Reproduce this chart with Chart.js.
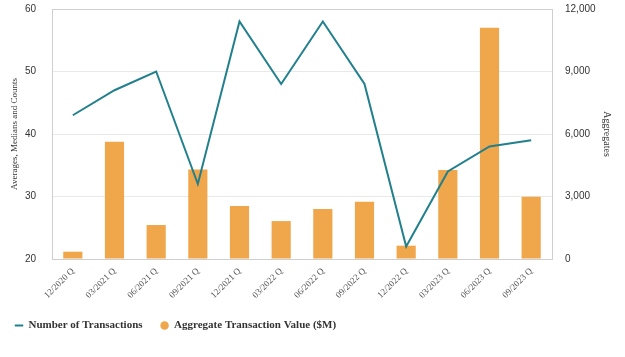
<!DOCTYPE html>
<html><head><meta charset="utf-8">
<script src="https://cdn.jsdelivr.net/npm/chart.js@4/dist/chart.umd.min.js"></script>
<style>html,body{margin:0;padding:0;background:#fff;overflow:hidden;}</style>
</head><body>
<canvas id="c" width="625" height="357" style="display:block;width:625px;height:357px"></canvas>
<script>
const categories = ['12/2020 Q','03/2021 Q','06/2021 Q','09/2021 Q','12/2021 Q','03/2022 Q','06/2022 Q','09/2022 Q','12/2022 Q','03/2023 Q','06/2023 Q','09/2023 Q'];
const transactionCounts = [43,47,50,32,58,48,58,48,22,34,38,39];
const aggregateValues = [350,5630,1630,4300,2540,1820,2400,2750,640,4270,11100,2990];
const leftAxisTitle = 'Averages, Medians and Counts';
const rightAxisTitle = 'Aggregates';
const lineLabel = 'Number of Transactions';
const barLabel = 'Aggregate Transaction Value ($M)';

const teal = '#22808c';
const orange = '#f0a64a';
const border = '#cfcfcf';
const serif = "'Liberation Serif', 'Times New Roman', serif";
const sans = "'Liberation Sans', Arial, sans-serif";

new Chart(document.getElementById('c'), {
  data: {
    labels: categories,
    datasets: [
      { type: 'line', label: lineLabel, data: transactionCounts, yAxisID: 'y',
        borderColor: teal, backgroundColor: teal, borderWidth: 2, pointRadius: 0,
        pointStyle: 'line', tension: 0, order: 0 },
      { type: 'bar', label: barLabel, data: aggregateValues, yAxisID: 'y1',
        backgroundColor: orange, borderWidth: 0, pointStyle: 'circle',
        barPercentage: 0.46, categoryPercentage: 1, order: 1 }
    ]
  },
  options: {
    responsive: false, animation: false, devicePixelRatio: 1,
    layout: { padding: { left: -3, right: 0, top: 8, bottom: 16 } },
    plugins: {
      tooltip: { enabled: false },
      legend: {
        position: 'bottom', align: 'start',
        labels: { usePointStyle: true, boxWidth: 8, boxHeight: 6, padding: 18,
          color: '#333', font: { family: serif, size: 11, weight: 'bold' } }
      }
    },
    scales: {
      x: {
        grid: { display: false, drawTicks: false },
        border: { display: true, color: border },
        ticks: { maxRotation: 45, minRotation: 45, padding: 7, color: '#555',
          font: { family: serif, size: 9 } },
        afterFit: s => { s.height = 43; }
      },
      y: {
        position: 'left', min: 20, max: 60,
        grid: { drawTicks: true, tickLength: 13, tickColor: 'rgba(0,0,0,0)',
          color: ctx => ctx.tick && ctx.tick.value === 60 ? border : '#e9e9e9' },
        border: { display: true, color: border },
        ticks: { stepSize: 10, padding: 3, color: '#333', font: { family: sans, size: 10 } },
        title: { display: true, text: leftAxisTitle, color: '#333', padding: { top: 12.5, bottom: 0 },
          font: { family: serif, size: 9 } },
        afterFit: s => { s.width = 55; }
      },
      y1: {
        position: 'right', min: 0, max: 12000,
        grid: { drawOnChartArea: false, drawTicks: true, tickLength: 10, tickColor: 'rgba(0,0,0,0)' },
        border: { display: true, color: border },
        ticks: { stepSize: 3000, padding: 3, color: '#333', font: { family: sans, size: 10 } },
        title: { display: true, text: rightAxisTitle, color: '#333', padding: { top: 12, bottom: 0 },
          font: { family: serif, size: 10 } },
        afterFit: s => { s.width = 73; }
      }
    }
  }
});
</script>
</body></html>
